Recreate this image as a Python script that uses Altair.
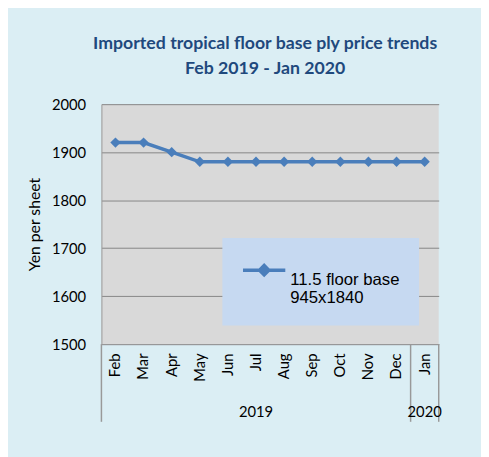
import altair as alt
import pandas as pd

MONTHS = ["Feb", "Mar", "Apr", "May", "Jun", "Jul", "Aug", "Sep", "Oct", "Nov", "Dec", "Jan"]
PRICES = [1920, 1920, 1900, 1880, 1880, 1880, 1880, 1880, 1880, 1880, 1880, 1880]
SERIES = "11.5 floor base\n945x1840"
YEAR_LABELS = ["2019", "2020"]
YEAR_ANCHOR = ["Jul", "Jan"]
SEP_LEFT = ["Feb", "Jan"]
SEP_RIGHT = ["Jan"]
Y_TICKS = [1500, 1600, 1700, 1800, 1900, 2000]

W, H = 343, 244
FONT = "Lato"
LINE_C = "#4a7ebb"

df = pd.DataFrame({"month": MONTHS, "price": PRICES, "series": [SERIES] * len(MONTHS)})
years = pd.DataFrame({"year": YEAR_LABELS, "month": YEAR_ANCHOR})
sep_l = pd.DataFrame({"month": SEP_LEFT})
sep_r = pd.DataFrame({"month": SEP_RIGHT})

xscale = alt.Scale(type="band", domain=MONTHS, paddingInner=0, paddingOuter=0)
xaxis = alt.Axis(title=None, labelAngle=-90, labelFont=FONT, labelFontSize=15,
                 labelColor="#000", ticks=False, domainColor="#999", labelPadding=9)

# legend symbol: line with a diamond, lifted to sit on the first label line
sym = "M-1,-0.45L1,-0.45M0,-0.67L0.22,-0.45L0,-0.23L-0.22,-0.45Z"

line = alt.Chart(df).mark_line(
    strokeWidth=3.5, color=LINE_C,
    point=alt.OverlayMarkDef(shape="diamond", size=110, filled=True, color=LINE_C, opacity=1),
).encode(
    x=alt.X("month:N", sort=MONTHS, scale=xscale, bandPosition=0.5, axis=xaxis),
    y=alt.Y("price:Q", scale=alt.Scale(domain=[1500, 2000], nice=False, zero=False),
            axis=alt.Axis(values=Y_TICKS, format="d", title="Yen per sheet", titleFont=FONT,
                          titleFontSize=16, titleFontWeight="normal", titleColor="#000",
                          titlePadding=9, labelFont=FONT, labelFontSize=15, labelColor="#000",
                          ticks=False, domainColor="#999", labelPadding=16, grid=True,
                          gridColor="#868686")),
    color=alt.Color("series:N", scale=alt.Scale(range=[LINE_C]),
                    legend=alt.Legend(orient="none", legendX=123, legendY=136, title=None,
                                      fillColor="#c6d9f1", padding=19, symbolType=sym,
                                      symbolSize=1849, symbolStrokeWidth=3.5,
                                      symbolFillColor=LINE_C, symbolStrokeColor=LINE_C,
                                      labelFont="Liberation Sans", labelFontSize=17,
                                      labelColor="#000", labelOffset=3, labelBaseline="middle",
                                      labelExpr="split(datum.label, '\\n')")),
)

sepl = alt.Chart(sep_l).mark_rule(color="#999", strokeWidth=1.5).encode(
    x=alt.X("month:N", scale=xscale, bandPosition=0, axis=xaxis),
    y=alt.value(H), y2=alt.value(H + 79),
)
sepr = alt.Chart(sep_r).mark_rule(color="#999", strokeWidth=1.5).encode(
    x=alt.X("month:N", scale=xscale, bandPosition=1, axis=xaxis),
    y=alt.value(H), y2=alt.value(H + 79),
)
yeartext = alt.Chart(years).mark_text(font=FONT, fontSize=15, color="#000", baseline="middle").encode(
    x=alt.X("month:N", scale=xscale, bandPosition=0.5, axis=xaxis),
    y=alt.value(H + 69),
    text="year:N",
)

chart = alt.layer(line, sepl, sepr, yeartext).properties(
    width=W, height=H,
    background="#dbeef4",
    padding={"left": 95, "top": 94, "right": 43, "bottom": 111},
    autosize=alt.AutoSizeParams(type="none"),
    title=alt.TitleParams(["Imported tropical floor base ply price trends", "Feb 2019 - Jan 2020"],
                          font=FONT, fontSize=18, fontWeight="bold", color="#1f497d",
                          anchor="middle", dx=-5, offset=20, lineHeight=25),
).configure_view(fill="#d9d9d9", stroke=None)

chart.save("out.html", embed_options={"renderer": "svg", "actions": False})
